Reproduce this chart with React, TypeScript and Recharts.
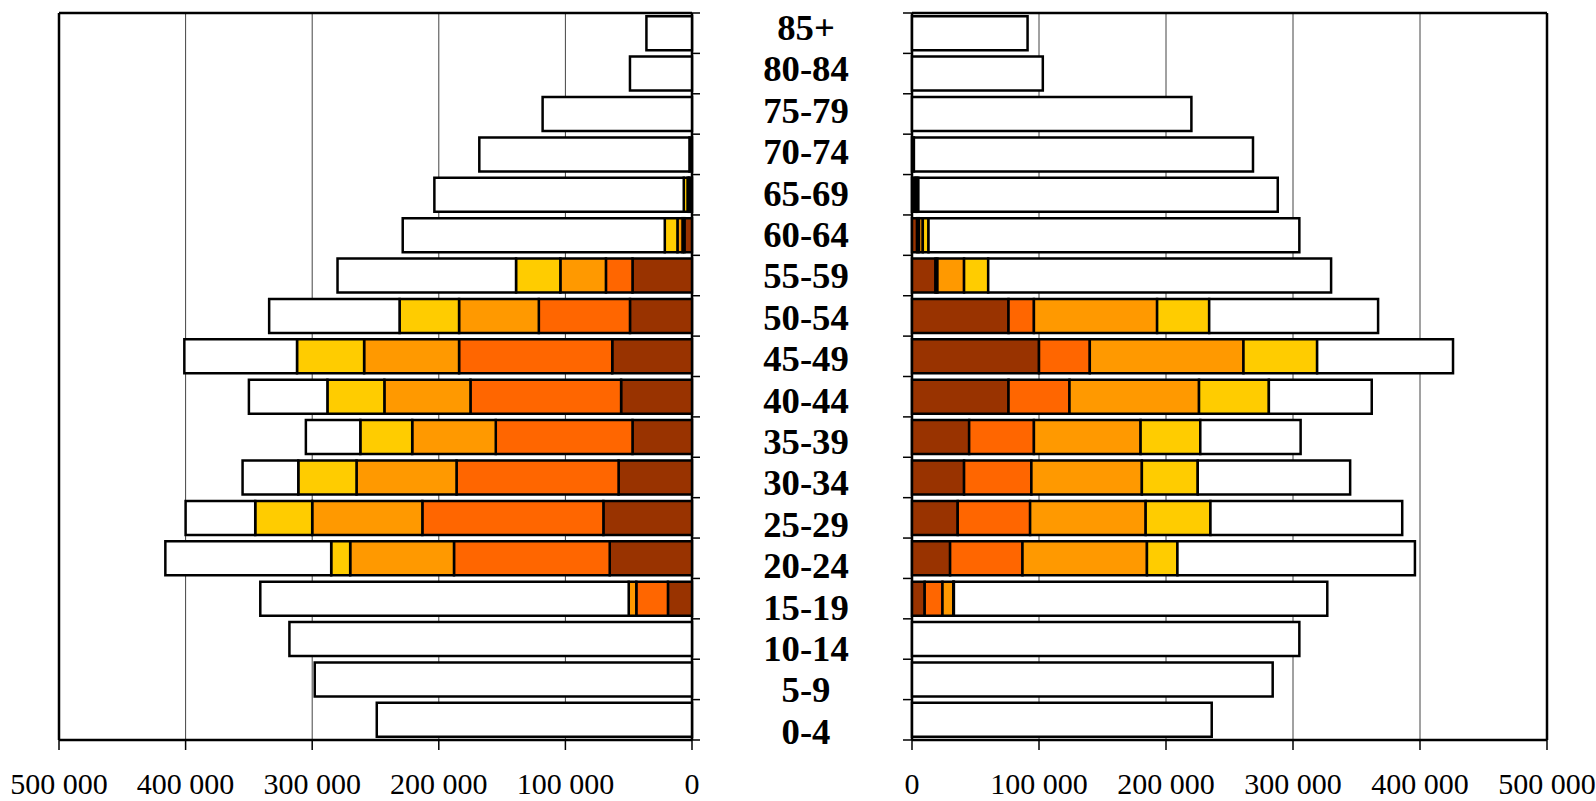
import { BarChart, Bar, XAxis, YAxis, CartesianGrid } from 'recharts';

// age groups, youngest first
const ages = ['0-4', '5-9', '10-14', '15-19', '20-24', '25-29', '30-34', '35-39', '40-44', '45-49', '50-54', '55-59', '60-64', '65-69', '70-74', '75-79', '80-84', '85+'];

// left half (thousands)
const leftBrown = [0, 0, 0, 19, 65, 70, 58, 47, 56, 63, 49, 47, 6, 2, 2, 0, 0, 0];
const leftRed = [0, 0, 0, 25, 123, 143, 128, 108, 119, 121, 72, 21, 1.5, 0.5, 0, 0, 0, 0];
const leftOrange = [0, 0, 0, 6, 82, 87, 79, 66, 68, 75, 63, 36, 4, 1, 0, 0, 0, 0];
const leftYellow = [0, 0, 0, 0, 15, 45, 46, 41, 45, 53, 47, 35, 10, 3, 0, 0, 0, 0];
const leftWhite = [249, 298, 318, 291, 131, 55, 44, 43, 62, 89, 103, 141, 207, 197, 166, 118, 49, 36];

// right half (thousands)
const rightBrown = [0, 0, 0, 10, 30, 36, 41, 45, 76, 100, 76, 18.5, 4, 2, 1.5, 0, 0, 0];
const rightRed = [0, 0, 0, 14, 57, 57, 53, 51, 48, 40, 20, 1.5, 1.5, 1, 0, 0, 0, 0];
const rightOrange = [0, 0, 0, 8.5, 98, 91, 87, 84, 102, 121, 97, 21, 3, 1, 0, 0, 0, 0];
const rightYellow = [0, 0, 0, 0.5, 24, 51, 44, 47, 55, 58, 41, 19, 4.5, 1, 0, 0, 0, 0];
const rightWhite = [236, 284, 305, 294, 187, 151, 120, 79, 81, 107, 133, 270, 292, 283, 267, 220, 103, 91];

const xTicks = [0, 100, 200, 300, 400, 500];

const COLORS = { brown: '#993300', red: '#FF6600', orange: '#FF9900', yellow: '#FFCC00', white: '#FFFFFF' };
const SERIF = '"Liberation Serif", "Times New Roman", serif';

const TOP = 13;
const PLOT_H = 727;
const BAND = PLOT_H / ages.length;

const leftData = ages.map((age, i) => ({
  age, brown: leftBrown[i], red: leftRed[i], orange: leftOrange[i], yellow: leftYellow[i], white: leftWhite[i],
}));
const rightData = ages.map((age, i) => ({
  age, brown: rightBrown[i], red: rightRed[i], orange: rightOrange[i], yellow: rightYellow[i], white: rightWhite[i],
}));

const fmt = (v: number) => (v === 0 ? '0' : `${v} 000`);

// boundary tick marks (Excel style, between categories)
function BoundaryTicks({ y, index, x0, x1 }: any) {
  return (
    <g>
      <line x1={x0} x2={x1} y1={y + BAND / 2} y2={y + BAND / 2} stroke="#000" strokeWidth={1.5} />
      {index === ages.length - 1 && (
        <line x1={x0} x2={x1} y1={y - BAND / 2} y2={y - BAND / 2} stroke="#000" strokeWidth={1.5} />
      )}
    </g>
  );
}

const LeftTick = (props: any) => <BoundaryTicks {...props} x0={692} x1={700} />;

const RightTick = (props: any) => {
  const { y, index, payload } = props;
  const k = ages.length - 1 - index;
  const cy = y - 4.9 + 1.0 * k;
  return (
    <g>
      <BoundaryTicks y={y} index={index} x0={203} x1={212} />
      <text
        transform={`translate(106, ${cy + 11.8}) scale(1.08, 1.03)`}
        textAnchor="middle"
        fontFamily={SERIF}
        fontWeight="bold"
        fontSize={34}
        fill="#000"
      >
        {payload.value}
      </text>
    </g>
  );
};

const frameH = ({ offset }: any) => [offset.top, offset.top + offset.height];
const frameV = ({ offset }: any) => [offset.left, offset.left + offset.width];

function Series() {
  return [
    <Bar key="brown" dataKey="brown" stackId="a" fill={COLORS.brown} stroke="#000" strokeWidth={2.5} isAnimationActive={false} />,
    <Bar key="red" dataKey="red" stackId="a" fill={COLORS.red} stroke="#000" strokeWidth={2.5} isAnimationActive={false} />,
    <Bar key="orange" dataKey="orange" stackId="a" fill={COLORS.orange} stroke="#000" strokeWidth={2.5} isAnimationActive={false} />,
    <Bar key="yellow" dataKey="yellow" stackId="a" fill={COLORS.yellow} stroke="#000" strokeWidth={2.5} isAnimationActive={false} />,
    <Bar key="white" dataKey="white" stackId="a" fill={COLORS.white} stroke="#000" strokeWidth={2.5} isAnimationActive={false} />,
  ];
}

const tickStyle = { fill: '#000', fontSize: 30, fontFamily: SERIF };

export default function App() {
  return (
    <div style={{ position: 'absolute', left: 0, top: 0, width: 1596, height: 801, background: '#fff' }}>
      <div style={{ position: 'absolute', left: 0, top: 0 }}>
        <BarChart
          width={700}
          height={801}
          data={leftData}
          layout="vertical"
          barCategoryGap="8%"
          margin={{ top: TOP, right: 0, bottom: 11, left: 59 }}
        >
          <CartesianGrid horizontal={false} stroke="#444" strokeWidth={1} />
          <CartesianGrid stroke="#000" strokeWidth={2.5} horizontalCoordinatesGenerator={frameH} verticalCoordinatesGenerator={frameV} />
          <XAxis
            type="number"
            domain={[0, 500]}
            ticks={xTicks}
            reversed
            height={50}
            axisLine={false}
            tickSize={10}
            tickMargin={23}
            tickLine={{ stroke: '#000', strokeWidth: 1.5 }}
            tick={tickStyle}
            tickFormatter={fmt}
            interval={0}
          />
          <YAxis type="category" dataKey="age" orientation="right" reversed width={8} axisLine={false} tickLine={false} tick={<LeftTick />} interval={0} />
          {Series()}
        </BarChart>
      </div>
      <div style={{ position: 'absolute', left: 700, top: 0 }}>
        <BarChart
          width={896}
          height={801}
          data={rightData}
          layout="vertical"
          barCategoryGap="8%"
          margin={{ top: TOP, right: 49, bottom: 11, left: 0 }}
        >
          <CartesianGrid horizontal={false} stroke="#444" strokeWidth={1} />
          <CartesianGrid stroke="#000" strokeWidth={2.5} horizontalCoordinatesGenerator={frameH} verticalCoordinatesGenerator={frameV} />
          <XAxis
            type="number"
            domain={[0, 500]}
            ticks={xTicks}
            height={50}
            axisLine={false}
            tickSize={10}
            tickMargin={23}
            tickLine={{ stroke: '#000', strokeWidth: 1.5 }}
            tick={tickStyle}
            tickFormatter={fmt}
            interval={0}
          />
          <YAxis type="category" dataKey="age" orientation="left" reversed width={212} axisLine={false} tickLine={false} tick={<RightTick />} interval={0} />
          {Series()}
        </BarChart>
      </div>
    </div>
  );
}
